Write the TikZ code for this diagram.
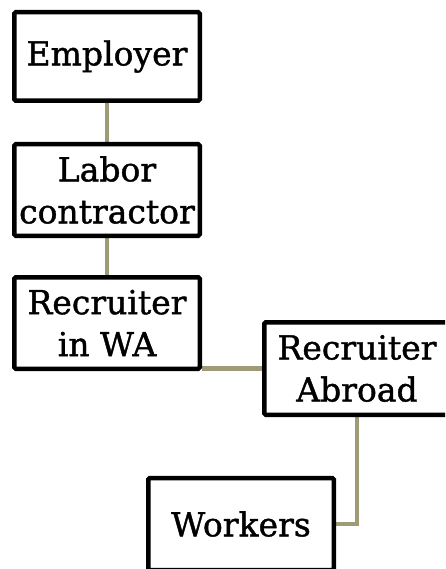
\documentclass[tikz,border=0pt]{standalone}
\usepackage{fontspec}
\setmainfont[FakeBold=1.2]{DejaVu Serif}
\usetikzlibrary{backgrounds}
\definecolor{conn}{RGB}{158,155,118}
\begin{document}
\begin{tikzpicture}[x=1pt,y=-1pt,
  box/.style={draw=black,line width=4.5pt,fill=white,rounded corners=1.5pt,
    minimum width=185.5pt,inner sep=0pt,align=center,
    font=\fontsize{33}{42}\selectfont},
  link/.style={draw=conn,line width=4.5pt}]
\useasboundingbox (0,0) rectangle (445,569);
\clip (0,0) rectangle (445,569);
\node[box,minimum height=88.5pt] (emp) at (107,56.5) {Employer};
\node[box,minimum height=91.5pt] (lab) at (107,190) {Labor\\contractor};
\node[box,minimum height=91.5pt] (wa) at (107,323) {Recruiter\\in WA};
\node[box,minimum height=92.5pt] (abr) at (357,368.5) {Recruiter\\Abroad};
\node[box,minimum height=92pt] (wrk) at (241,524) {Workers};
\begin{scope}[on background layer]
\draw[link] (emp.south) -- (lab.north);
\draw[link] (lab.south) -- (wa.north);
\draw[link] (abr.west) -- (abr.west -| wa.east);
\draw[link] (abr.south) |- (wrk.east);
\end{scope}
\end{tikzpicture}
\end{document}
